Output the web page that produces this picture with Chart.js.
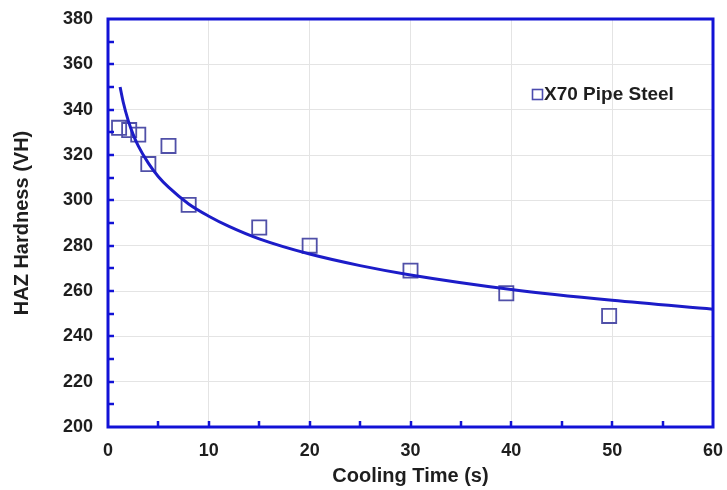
<!DOCTYPE html>
<html>
<head>
<meta charset="utf-8">
<script src="https://cdn.jsdelivr.net/npm/chart.js@4.4.0/dist/chart.umd.min.js"></script>
<style>
  html, body { margin: 0; padding: 0; background: #fff; }
  canvas { display: block; }
</style>
</head>
<body>
<canvas id="chart" width="727" height="490"></canvas>
<script>
// measured HAZ hardness
const coolTimes = [1.1, 2.1, 3.0, 4.0, 6.0, 8.0, 15.0, 20.0, 30.0, 39.5, 49.7];
const hardness  = [332, 331, 329, 316, 324, 298, 288, 280, 269, 259, 249];

// fitted curve
const fitTimes    = [1.2, 1.5, 2, 2.5, 3, 4, 5, 6, 8, 10, 12, 15, 20, 25, 30, 40, 50, 60];
const fitHardness = [350, 343.5, 335.3, 329, 324, 316.4, 310.4, 305.8, 298.4, 293, 288.5, 283, 276.3, 271.2, 267.1, 260.7, 255.9, 252];

const seriesLabel = "X70 Pipe Steel";
const xRange = [0, 60];
const yRange = [200, 380];

const FONT = "'Liberation Sans', Arial, sans-serif";
const AXIS_BLUE = "#1212d6";
const GRID = "#e4e4e4";
const TXT = "#1e1e1e";

// blue frame, inside tick marks and the in-plot legend
const framePlugin = {
  id: "frame",
  afterDatasetsDraw(chart) {
    const { ctx, chartArea: a, scales } = chart;
    ctx.save();
    ctx.strokeStyle = AXIS_BLUE;
    ctx.lineWidth = 2.5;
    for (let v = xRange[0] + 5; v < xRange[1]; v += 5) {
      const px = Math.round(scales.x.getPixelForValue(v));
      ctx.beginPath(); ctx.moveTo(px, a.bottom); ctx.lineTo(px, a.bottom - 6); ctx.stroke();
    }
    for (let v = yRange[0] + 10; v < yRange[1]; v += 10) {
      const py = Math.round(scales.y.getPixelForValue(v));
      ctx.beginPath(); ctx.moveTo(a.left, py); ctx.lineTo(a.left + 6, py); ctx.stroke();
    }
    ctx.lineWidth = 3;
    ctx.strokeRect(a.left, a.top, a.right - a.left, a.bottom - a.top);

    // legend
    ctx.strokeStyle = "#4c4cae";
    ctx.lineWidth = 1.6;
    ctx.strokeRect(532.5, 89.5, 10, 10);
    ctx.fillStyle = TXT;
    ctx.font = "bold 19px " + FONT;
    ctx.textBaseline = "middle";
    ctx.fillText(seriesLabel, 544, 95);
    ctx.restore();
  }
};

new Chart(document.getElementById("chart"), {
  type: "scatter",
  data: {
    datasets: [
      {
        label: "fit",
        data: fitTimes.map((t, i) => ({ x: t, y: fitHardness[i] })),
        showLine: true,
        borderColor: "#1c1cc8",
        borderWidth: 3,
        pointRadius: 0,
        cubicInterpolationMode: "monotone",
        fill: false
      },
      {
        label: seriesLabel,
        data: coolTimes.map((t, i) => ({ x: t, y: hardness[i] })),
        pointStyle: "rect",
        pointRadius: 10,
        borderColor: "#5050a8",
        backgroundColor: "rgba(0,0,0,0)",
        borderWidth: 1.8
      }
    ]
  },
  options: {
    responsive: false,
    animation: false,
    layout: { padding: { top: 19, right: 14, left: 0, bottom: 0 } },
    plugins: { legend: { display: false }, tooltip: { enabled: false } },
    scales: {
      x: {
        type: "linear",
        min: xRange[0], max: xRange[1],
        afterFit(s) { s.height = 63; s.paddingRight = 0; s.paddingLeft = 0; },
        grid: { color: GRID, lineWidth: 1, drawTicks: false },
        border: { display: false },
        ticks: { stepSize: 10, padding: 13, color: TXT, font: { family: FONT, size: 18, weight: "bold" } },
        title: { display: true, text: "Cooling Time (s)", color: TXT, padding: { top: 0, bottom: 2 },
                 font: { family: FONT, size: 20, weight: "bold" } }
      },
      y: {
        min: yRange[0], max: yRange[1],
        afterFit(s) { s.width = 108; s.paddingTop = 0; s.paddingBottom = 0; },
        grid: { color: GRID, lineWidth: 1, drawTicks: false },
        border: { display: false },
        ticks: { stepSize: 20, padding: 15, color: TXT, font: { family: FONT, size: 18, weight: "bold" } },
        title: { display: true, text: "HAZ Hardness (VH)", color: TXT, padding: { top: 10, bottom: 0 },
                 font: { family: FONT, size: 20, weight: "bold" } }
      }
    }
  },
  plugins: [framePlugin]
});
</script>
</body>
</html>
